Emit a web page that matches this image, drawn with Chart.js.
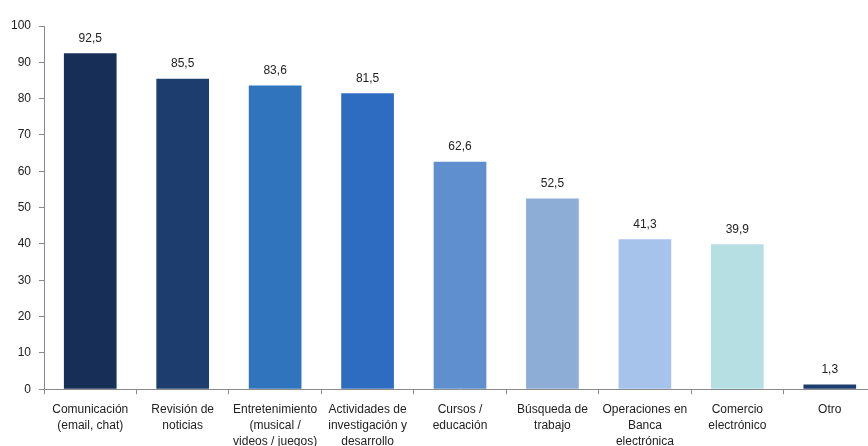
<!DOCTYPE html>
<html>
<head>
<meta charset="utf-8">
<script src="https://cdn.jsdelivr.net/npm/chart.js@4.4.0/dist/chart.umd.min.js"></script>
<style>
  html, body { margin: 0; padding: 0; background: #fff; overflow: hidden; }
  #chart { position: absolute; left: 0; top: 0; }
</style>
</head>
<body>
<canvas id="chart" width="880" height="457"></canvas>
<script>
const categories = [
  ["Comunicación", "(email, chat)"],
  ["Revisión de", "noticias"],
  ["Entretenimiento", "(musical /", "videos / juegos)"],
  ["Actividades de", "investigación y", "desarrollo"],
  ["Cursos /", "educación"],
  ["Búsqueda de", "trabajo"],
  ["Operaciones en", "Banca", "electrónica"],
  ["Comercio", "electrónico"],
  ["Otro"]
];
const values = [92.5, 85.5, 83.6, 81.5, 62.6, 52.5, 41.3, 39.9, 1.3];
const barColors = ["#172f57", "#1d3d6f", "#2f74bd", "#2e6cc2", "#5f8fcf",
                   "#8eadd6", "#a6c3ec", "#b5dfe3", "#1d3d6f"];
const yTicks = [0, 10, 20, 30, 40, 50, 60, 70, 80, 90, 100];

// value labels above each bar, decimal comma
const valueLabels = {
  id: "valueLabels",
  afterDatasetsDraw(chart) {
    const ctx = chart.ctx;
    const meta = chart.getDatasetMeta(0);
    ctx.save();
    ctx.font = "12px 'Liberation Sans', Arial, sans-serif";
    ctx.fillStyle = "#222";
    ctx.textAlign = "center";
    ctx.textBaseline = "middle";
    meta.data.forEach((bar, i) => {
      ctx.fillText(values[i].toFixed(1).replace(".", ","), bar.x, bar.y - 15);
    });
    ctx.restore();
  }
};

new Chart(document.getElementById("chart"), {
  type: "bar",
  data: {
    labels: categories,
    datasets: [{
      data: values,
      backgroundColor: barColors,
      barPercentage: 0.57,
      categoryPercentage: 1
    }]
  },
  options: {
    responsive: false,
    animation: false,
    layout: { padding: { left: 3, top: 26, right: 4, bottom: 0 } },
    plugins: { legend: { display: false }, tooltip: { enabled: false } },
    scales: {
      x: {
        offset: true,
        border: { color: "#8a8a8a" },
        grid: { display: true, offset: true, drawOnChartArea: false, tickLength: 5, color: "#8a8a8a" },
        ticks: {
          color: "#222",
          font: { family: "'Liberation Sans', Arial, sans-serif", size: 12, lineHeight: 1.3 },
          maxRotation: 0,
          autoSkip: false,
          padding: 8
        }
      },
      y: {
        min: 0,
        max: 100,
        afterBuildTicks: (axis) => { axis.ticks = yTicks.map(v => ({ value: v })); },
        border: { color: "#8a8a8a" },
        grid: { display: true, drawOnChartArea: false, tickLength: 5, color: "#8a8a8a" },
        ticks: {
          color: "#222",
          font: { family: "'Liberation Sans', Arial, sans-serif", size: 12 },
          padding: 8
        }
      }
    }
  },
  plugins: [valueLabels]
});
</script>
</body>
</html>
